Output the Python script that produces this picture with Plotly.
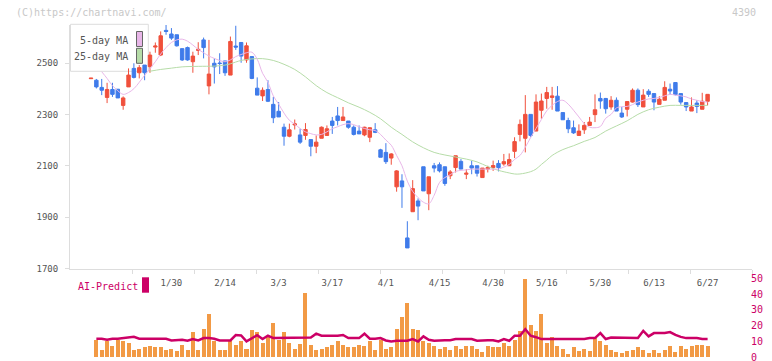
import plotly.graph_objects as go

# ---------------- data ----------------
# trading-day index 0..115 (2025-01-08 .. 2025-06-27)
label_idx = [15, 25, 35, 45, 55, 65, 75, 85, 95, 105, 115]
label_text = ["1/30", "2/14", "3/3", "3/17", "4/1", "4/15", "4/30", "5/16", "5/30", "6/13", "6/27"]

opens = [2439, 2433, 2405, 2366, 2397, 2398, 2335, 2407, 2479, 2462,
         2492, 2486, 2562, 2531, 2627, 2613, 2610, 2556, 2560, 2505,
         2549, 2590, 2411, 2499, 2500, 2508, 2453, 2566, 2580, 2512,
         2525, 2402, 2372, 2397, 2339, 2312, 2250, 2215, 2259, 2220,
         2218, 2202, 2176, 2207, 2218, 2274, 2294, 2276, 2274, 2250,
         2235, 2220, 2211, 2240, 2162, 2152, 2130, 2018, 2041, 1819,
         1921, 1963, 2096, 1991, 2100, 2104, 2096, 2061, 2093, 2117,
         2067, 2100, 2100, 2054, 2087, 2093, 2109, 2107, 2100, 2156,
         2222, 2207, 2300, 2235, 2316, 2362, 2366, 2371, 2307, 2276,
         2248, 2218, 2240, 2257, 2299, 2362, 2362, 2329, 2355, 2305,
         2320, 2348, 2394, 2329, 2390, 2381, 2339, 2355, 2398, 2424,
         2381, 2346, 2313, 2344, 2320, 2351]
highs = [2441, 2438, 2438, 2423, 2423, 2398, 2370, 2479, 2499, 2492,
         2492, 2544, 2580, 2623, 2648, 2636, 2610, 2556, 2564, 2544,
         2581, 2599, 2590, 2518, 2538, 2508, 2603, 2645, 2580, 2580,
         2525, 2444, 2405, 2433, 2368, 2348, 2264, 2264, 2280, 2244,
         2266, 2202, 2218, 2253, 2257, 2290, 2329, 2329, 2274, 2257,
         2257, 2252, 2250, 2266, 2166, 2188, 2149, 2083, 2067, 1884,
         2044, 1973, 2096, 2057, 2111, 2113, 2096, 2083, 2139, 2126,
         2087, 2120, 2100, 2091, 2100, 2120, 2122, 2146, 2148, 2211,
         2280, 2375, 2300, 2378, 2381, 2407, 2407, 2410, 2307, 2287,
         2276, 2261, 2270, 2290, 2378, 2385, 2364, 2371, 2366, 2329,
         2350, 2401, 2401, 2398, 2398, 2381, 2371, 2429, 2420, 2424,
         2381, 2346, 2366, 2355, 2384, 2378]
lows = [2439, 2401, 2375, 2344, 2368, 2364, 2318, 2407, 2440, 2440,
        2433, 2462, 2540, 2527, 2610, 2590, 2564, 2508, 2509, 2462,
        2531, 2518, 2378, 2420, 2457, 2450, 2453, 2551, 2501, 2501,
        2437, 2375, 2352, 2348, 2266, 2290, 2178, 2211, 2241, 2185,
        2201, 2137, 2149, 2207, 2218, 2224, 2257, 2276, 2244, 2218,
        2224, 2215, 2192, 2227, 2133, 2107, 2104, 1999, 1936, 1780,
        1921, 1888, 2002, 1927, 2074, 2074, 2022, 2048, 2074, 2087,
        2048, 2067, 2058, 2054, 2074, 2080, 2078, 2100, 2100, 2130,
        2195, 2152, 2211, 2235, 2283, 2322, 2318, 2313, 2279, 2227,
        2224, 2218, 2224, 2257, 2270, 2322, 2303, 2318, 2313, 2286,
        2292, 2346, 2329, 2329, 2368, 2316, 2339, 2355, 2377, 2374,
        2338, 2313, 2313, 2305, 2320, 2335]
closes = [2441, 2407, 2394, 2397, 2378, 2364, 2364, 2453, 2444, 2482,
          2462, 2531, 2566, 2606, 2623, 2597, 2567, 2512, 2512, 2527,
          2553, 2560, 2457, 2485, 2498, 2462, 2584, 2562, 2527, 2567,
          2440, 2375, 2394, 2351, 2287, 2290, 2215, 2240, 2263, 2192,
          2241, 2176, 2192, 2250, 2244, 2257, 2276, 2290, 2250, 2222,
          2224, 2250, 2248, 2230, 2133, 2116, 2146, 2080, 2018, 1780,
          2011, 1943, 2002, 2057, 2091, 2080, 2031, 2076, 2139, 2087,
          2071, 2091, 2071, 2091, 2093, 2101, 2093, 2116, 2124, 2194,
          2261, 2300, 2218, 2348, 2352, 2385, 2372, 2313, 2279, 2244,
          2228, 2235, 2257, 2270, 2318, 2352, 2322, 2355, 2313, 2290,
          2350, 2394, 2338, 2375, 2378, 2348, 2359, 2405, 2391, 2377,
          2348, 2329, 2329, 2331, 2351, 2378]

# 5-day moving average
ma5_idx = list(range(2, 116))
ma5_val = [2466, 2440, 2412, 2392, 2378, 2385, 2400, 2425, 2452, 2478,
           2505, 2535, 2560, 2580, 2590, 2593, 2585, 2570, 2553, 2540,
           2527, 2518, 2510, 2505, 2512, 2525, 2533, 2540, 2542, 2515,
           2460, 2425, 2372, 2340, 2305, 2277, 2262, 2245, 2232, 2225,
           2220, 2222, 2232, 2244, 2252, 2260, 2264, 2260, 2252, 2245,
           2240, 2237, 2222, 2200, 2180, 2140, 2100, 2040, 2000, 1976,
           1958, 1952, 1985, 2035, 2054, 2065, 2078, 2082, 2084, 2087,
           2087, 2087, 2087, 2087, 2087, 2095, 2105, 2125, 2140, 2172,
           2210, 2245, 2280, 2314, 2335, 2350, 2355, 2340, 2316, 2290,
           2264, 2250, 2248, 2253, 2285, 2300, 2325, 2330, 2331, 2338,
           2348, 2355, 2360, 2362, 2366, 2372, 2378, 2375, 2372, 2368,
           2360, 2355, 2350, 2348]
# 25-day moving average
ma25_idx = [11, 13, 15, 17, 20, 23, 25, 26, 28, 30, 32, 34, 36, 38, 40,
            42, 44, 46, 48, 50, 52, 54, 56, 58, 60, 62, 64, 66, 68, 70,
            72, 74, 76, 78, 79, 80, 82, 83, 84, 85, 86, 88, 90, 92, 94,
            96, 98, 100, 102, 104, 106, 108, 110, 112, 115]
ma25_val = [2468, 2475, 2480, 2485, 2487, 2488, 2492, 2497, 2510, 2516,
            2517, 2510, 2495, 2475, 2446, 2412, 2385, 2365, 2345, 2328,
            2308, 2283, 2250, 2222, 2193, 2170, 2152, 2142, 2134, 2126,
            2115, 2097, 2082, 2072, 2068, 2068, 2077, 2087, 2105, 2122,
            2140, 2163, 2178, 2195, 2210, 2235, 2255, 2275, 2300, 2318,
            2328, 2335, 2335, 2335, 2335]

# lower panel (index 1..115)
vol_idx = list(range(1, 116))
volume = [10.5, 4.6, 10.3, 7.1, 10.5, 9.9, 9.2, 4.6, 5.3, 6.1,
          7.1, 6.1, 6.1, 4.6, 5.3, 3.6, 7.7, 4.6, 15.6, 4.2,
          17.9, 27.4, 10.3, 4.2, 4.2, 10.3, 7.7, 9.9, 5.3, 17.3,
          15.6, 9.2, 13.1, 21.9, 10.9, 15.6, 9.2, 5.3, 8.4, 40.9,
          7.7, 4.6, 5.3, 6.3, 7.7, 9.9, 7.7, 6.1, 6.1, 7.7,
          7.1, 9.9, 4.6, 10.9, 5.3, 6.3, 17.9, 25.1, 34.6, 17.9,
          17.3, 9.9, 9.2, 6.7, 5.3, 6.3, 4.2, 6.7, 5.3, 7.1,
          6.7, 5.3, 2.9, 7.1, 6.1, 6.1, 9.2, 7.1, 10.9, 16.2,
          49.6, 20.4, 16.2, 27.4, 9.2, 12.4, 7.1, 5.3, 2.1, 6.1,
          3.6, 5.3, 3.6, 12.0, 9.9, 7.7, 4.2, 2.9, 2.5, 3.6,
          4.6, 6.1, 4.2, 2.5, 4.2, 2.5, 4.6, 7.1, 2.9, 6.7,
          5.3, 6.7, 7.7, 7.7, 6.7]
ai_predict = [11.6, 11.6, 10.9, 11.6, 11.6, 12.0, 12.4, 12.8, 11.6, 11.6,
              11.6, 11.6, 12.0, 11.6, 10.5, 10.5, 10.9, 10.3, 11.4, 10.5,
              12.0, 12.0, 11.6, 10.5, 10.5, 10.5, 13.9, 13.7, 9.9, 12.0,
              13.9, 11.4, 13.5, 12.0, 12.0, 12.0, 12.0, 12.0, 12.0, 12.0,
              12.4, 14.8, 13.5, 13.5, 13.5, 13.5, 14.0, 12.0, 12.0, 12.0,
              14.8, 11.6, 11.6, 12.0, 10.5, 9.9, 10.3, 10.3, 10.3, 11.4,
              9.9, 13.1, 10.9, 10.3, 10.7, 10.7, 10.7, 11.4, 11.4, 11.4,
              11.4, 10.3, 10.7, 10.7, 10.7, 9.9, 11.4, 10.3, 13.5, 13.5,
              17.7, 13.5, 12.6, 11.4, 11.4, 11.4, 11.4, 11.4, 11.4, 11.4,
              11.4, 11.4, 12.0, 12.0, 15.2, 11.4, 12.4, 12.4, 12.4, 12.4,
              12.0, 12.0, 16.6, 13.1, 15.2, 15.2, 15.2, 15.8, 14.0, 12.8,
              12.0, 12.0, 12.0, 11.4, 11.4]

price_ticks = [1700, 1900, 2100, 2300, 2500]
lower_ticks = [0, 10, 20, 30, 40, 50]

# ---------------- styling / layout ----------------
RED = "#f0503c"
BLUE = "#3f7bea"
ORANGE = "#f29a45"
CRIMSON = "#cc0066"
PINK = "#e8b6e8"
GREEN = "#b6dca8"
GRID = "#dddddd"
TXT = "#555555"
FONT = "DejaVu Sans Mono"

W, H = 772, 361
ML, MR, MT, MB = 70, 20, 25, 4
PW, PH = W - ML - MR, H - MT - MB

def fx(px):
    return (px - ML) / PW

def fy(py):
    return (H - MB - py) / PH

# x mapping: candle 0 at 91.0 px, 5.3617 px per trading day
STEP = 5.3617
x0 = (ML - 91.0) / STEP
x1 = x0 + PW / STEP
deco_ticks = [x0 + k * (x1 - x0) / 11 for k in range(1, 12)]

idx = list(range(len(opens)))

fig = go.Figure()
fig.add_trace(go.Scatter(x=ma25_idx, y=ma25_val, mode="lines",
                         line=dict(color=GREEN, width=1, shape="spline"),
                         xaxis="x", yaxis="y", showlegend=False, hoverinfo="skip"))
fig.add_trace(go.Scatter(x=ma5_idx, y=ma5_val, mode="lines",
                         line=dict(color=PINK, width=1, shape="spline"),
                         xaxis="x", yaxis="y", showlegend=False, hoverinfo="skip"))
fig.add_trace(go.Candlestick(
    x=idx, open=opens, high=highs, low=lows, close=closes,
    increasing=dict(line=dict(color=RED, width=1), fillcolor=RED),
    decreasing=dict(line=dict(color=BLUE, width=1), fillcolor=BLUE),
    whiskerwidth=0, xaxis="x", yaxis="y", showlegend=False, hoverinfo="skip"))
fig.add_trace(go.Bar(x=vol_idx, y=volume, marker=dict(color=ORANGE, line=dict(width=0)),
                     width=0.75, xaxis="x2", yaxis="y2", showlegend=False, hoverinfo="skip"))
fig.add_trace(go.Scatter(x=vol_idx, y=ai_predict, mode="lines",
                         line=dict(color=CRIMSON, width=2.5),
                         xaxis="x2", yaxis="y2", showlegend=False, hoverinfo="skip"))

main_bottom = fy(268.5)
lower_top = fy(278.3)

fig.update_layout(
    width=W, height=H,
    margin=dict(l=ML, r=MR, t=MT, b=MB, autoexpand=False),
    paper_bgcolor="white", plot_bgcolor="white",
    showlegend=False,
    font=dict(family=FONT, color=TXT),
    bargap=0, boxgap=0.2, boxgroupgap=0.2,
    xaxis=dict(domain=[0, 1], range=[x0, x1], anchor="y",
               tickvals=label_idx, ticktext=label_text, ticks="",
               tickfont=dict(family=FONT, size=9, color=TXT), ticklabelstandoff=6,
               minor=dict(tickmode="array", tickvals=deco_ticks, ticks="outside",
                          ticklen=4, tickcolor=GRID, showgrid=False),
               showgrid=False, zeroline=False,
               showline=True, linecolor=GRID, linewidth=1,
               rangeslider=dict(visible=False)),
    yaxis=dict(domain=[main_bottom, 1], range=[1700, 2648], anchor="x",
               tickvals=price_ticks, ticks="outside", ticklen=4, tickcolor=GRID,
               tickfont=dict(family=FONT, size=9, color=TXT), ticklabelstandoff=5,
               showgrid=False, zeroline=False, showline=True, linecolor=GRID, linewidth=1),
    xaxis2=dict(domain=[0, 1], range=[x0, x1], anchor="y2",
                showticklabels=False, ticks="",
                showgrid=False, zeroline=False, showline=False),
    yaxis2=dict(domain=[0, lower_top], range=[0, 50], anchor="x2", side="right",
                tickvals=lower_ticks, ticks="", ticklabeloverflow="allow",
                tickfont=dict(family=FONT, size=10, color=CRIMSON), ticklabelstandoff=-2,
                showgrid=False, zeroline=False, showline=False),
)

shapes = []
# legend box (drawn below traces)
shapes.append(dict(type="rect", xref="paper", yref="paper", layer="below",
                   x0=fx(70.5), x1=fx(148.3), y0=fy(71.3), y1=fy(24.3),
                   line=dict(color=GRID, width=1), fillcolor="white"))
shapes.append(dict(type="rect", xref="paper", yref="paper", layer="above",
                   x0=fx(136.5), x1=fx(142.5), y0=fy(46.5), y1=fy(31.5),
                   line=dict(color="#666666", width=1), fillcolor=PINK))
shapes.append(dict(type="rect", xref="paper", yref="paper", layer="above",
                   x0=fx(136.5), x1=fx(142.5), y0=fy(63.3), y1=fy(48.3),
                   line=dict(color="#666666", width=1), fillcolor=GREEN))
# AI-Predict swatch
shapes.append(dict(type="rect", xref="paper", yref="paper", layer="above",
                   x0=fx(142), x1=fx(149), y0=fy(292.7), y1=fy(277.3),
                   line=dict(width=0), fillcolor=CRIMSON))
fig.update_layout(shapes=shapes)

ann = [
    dict(text="5-day MA", x=fx(130), y=fy(40), xanchor="right", yanchor="middle",
         font=dict(family=FONT, size=10, color=TXT)),
    dict(text="25-day MA", x=fx(130), y=fy(56.7), xanchor="right", yanchor="middle",
         font=dict(family=FONT, size=10, color=TXT)),
    dict(text="AI-Predict", x=fx(75.5), y=fy(286.5), xanchor="left", yanchor="middle",
         font=dict(family=FONT, size=10, color=CRIMSON)),
    dict(text="(C)https://chartnavi.com/", x=fx(13.5), y=fy(12.7), xanchor="left",
         yanchor="middle", font=dict(family=FONT, size=10, color="#c8c8c8")),
    dict(text="4390", x=fx(758), y=fy(12.5), xanchor="right", yanchor="middle",
         font=dict(family=FONT, size=10, color="#c8c8c8")),
]
for a in ann:
    a.update(xref="paper", yref="paper", showarrow=False)
fig.update_layout(annotations=ann)

fig.write_html("out.html",
               config={"displayModeBar": False, "staticPlot": True},
               post_script="document.body.style.margin='0';document.body.style.overflow='hidden';")
